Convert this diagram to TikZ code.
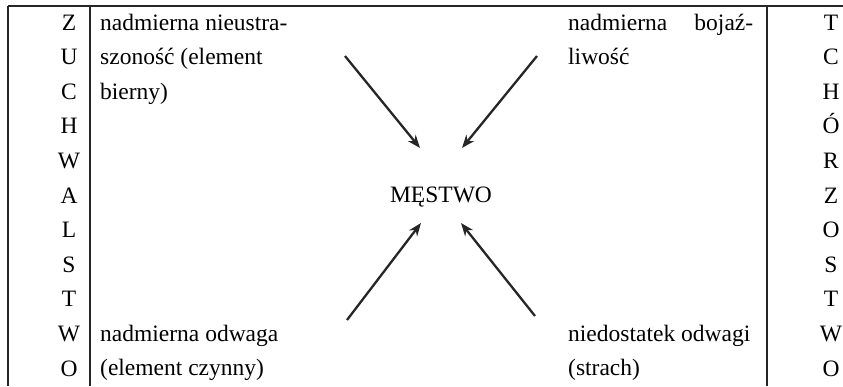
\documentclass[tikz,border=0pt]{standalone}
\usepackage{fontspec}
\setmainfont{Liberation Serif}
\usetikzlibrary{arrows.meta}
\begin{document}
\begin{tikzpicture}[x=1pt,y=-1pt,
  txt/.style={inner sep=0pt,anchor=base west,font=\fontsize{23.5}{28}\selectfont},
  letter/.style={inner sep=0pt,anchor=base,font=\fontsize{23.5}{28}\selectfont},
  rule/.style={line width=1.7pt,black!85},
  arr/.style={line width=2.3pt,black!85,-{Stealth[length=13pt,width=10pt]}}]
\useasboundingbox (0,0) rectangle (843,386);
% frame lines
\coordinate (tl) at (8,6);
\coordinate (tr) at (843,6);
\coordinate (bl) at (8,386);
\coordinate (il1) at (90,6);
\coordinate (il2) at (90,386);
\coordinate (ir1) at (767,6);
\coordinate (ir2) at (767,386);
\draw[rule,line width=2.2pt] (tl) -- (tr);
\draw[rule] (tl) -- (bl);
\draw[rule] (il1) -- (il2);
\draw[rule] (ir1) -- (ir2);
% letter columns
\foreach \c [count=\i from 0] in {Z,U,C,H,W,A,L,S,T,W,O}
  \node[letter] (zl\i) at (69,{30+\i*34.6}) {\c};
\foreach \c [count=\i from 0] in {T,C,H,Ó,R,Z,O,S,T,W,O}
  \node[letter] (tr\i) at (831,{30+\i*34.6}) {\c};
% texts
\node[txt] (a1) at (100,30) {nadmierna nieustra-};
\node[txt] (a2) at (100,64.6) {szoność (element};
\node[txt] (a3) at (100,99.2) {bierny)};
\node[txt] (b1) at (568,30) {\makebox[185pt][s]{nadmierna\hfill bojaź-}};
\node[txt] (b2) at (568,64.6) {liwość};
\node[txt] (c1) at (100,341) {nadmierna odwaga};
\node[txt] (c2) at (100,375.6) {(element czynny)};
\node[txt] (d1) at (568,341) {niedostatek odwagi};
\node[txt] (d2) at (568,375.6) {(strach)};
\node[letter] (m) at (441,202) {MĘSTWO};
% arrows
\coordinate (s1) at (345,56);
\coordinate (e1) at (420,148);
\coordinate (s2) at (537,56);
\coordinate (e2) at (462,148);
\coordinate (s3) at (347,320);
\coordinate (e3) at (421,223);
\coordinate (s4) at (535,316);
\coordinate (e4) at (461,223);
\draw[arr] (s1) -- (e1);
\draw[arr] (s2) -- (e2);
\draw[arr] (s3) -- (e3);
\draw[arr] (s4) -- (e4);
\end{tikzpicture}
\end{document}
